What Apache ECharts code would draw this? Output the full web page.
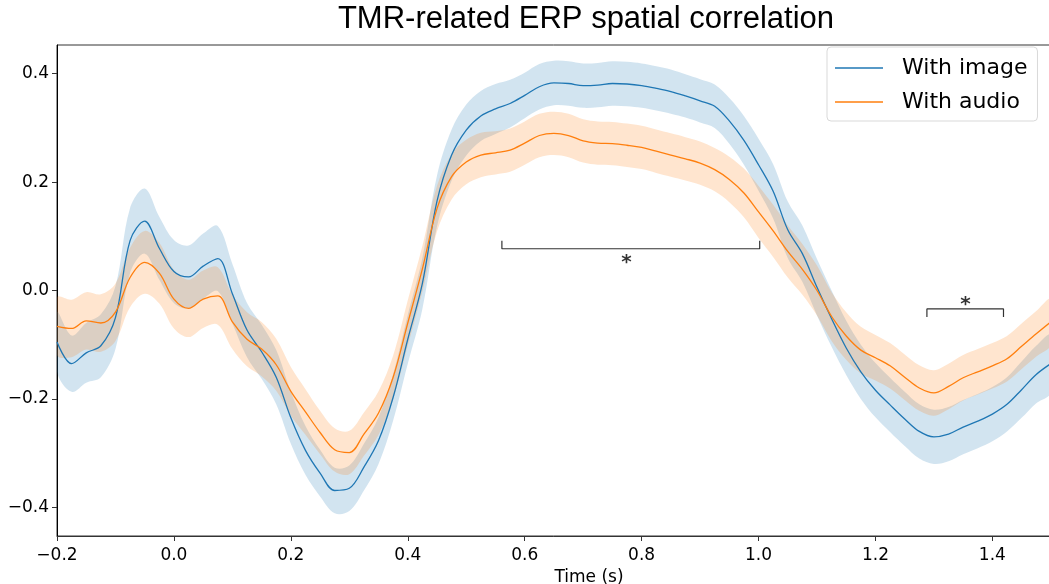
<!DOCTYPE html>
<html>
<head>
<meta charset="utf-8">
<title>TMR-related ERP spatial correlation</title>
<script src="https://cdn.jsdelivr.net/npm/echarts@6/dist/echarts.min.js"></script>
<style>
    html, body { margin: 0; padding: 0; background: #fff; }
    #erp_corr_con { width: 1049px; height: 584px; }
</style>
</head>
<body>
<div id="erp_corr_con"></div>
<script>
    // time axis (s)
    const times = [
        -0.2, -0.175, -0.15, -0.125, -0.1, -0.075, -0.05, -0.025, 0, 0.025,
        0.05, 0.075, 0.1, 0.125, 0.15, 0.175, 0.2, 0.225, 0.25, 0.275,
        0.3, 0.325, 0.35, 0.375, 0.4, 0.425, 0.45, 0.475, 0.5, 0.525,
        0.55, 0.575, 0.6, 0.625, 0.65, 0.675, 0.7, 0.725, 0.75, 0.775,
        0.8, 0.825, 0.85, 0.875, 0.9, 0.925, 0.95, 0.975, 1, 1.025,
        1.05, 1.075, 1.1, 1.125, 1.15, 1.175, 1.2, 1.225, 1.25, 1.275,
        1.3, 1.325, 1.35, 1.375, 1.4, 1.425, 1.45, 1.475, 1.5
    ];

    // With image: mean and half width of the shaded band
    const imageMean = [
        -0.095, -0.135, -0.115, -0.102, -0.05, 0.092, 0.128, 0.078, 0.035, 0.025,
        0.045, 0.059, -0.006, -0.073, -0.113, -0.16, -0.235, -0.295, -0.337, -0.369,
        -0.365, -0.326, -0.277, -0.197, -0.09, 0.013, 0.165, 0.25, 0.296, 0.322,
        0.335, 0.345, 0.36, 0.376, 0.383, 0.382, 0.378, 0.379, 0.382, 0.381,
        0.378, 0.373, 0.367, 0.359, 0.35, 0.34, 0.313, 0.277, 0.232, 0.183,
        0.112, 0.068, 0.006, -0.052, -0.106, -0.15, -0.184, -0.211, -0.237, -0.26,
        -0.27, -0.265, -0.252, -0.241, -0.228, -0.21, -0.183, -0.155, -0.135
    ];
    const imageHw = [
        0.055, 0.052, 0.055, 0.058, 0.058, 0.06, 0.06, 0.058, 0.058, 0.058,
        0.06, 0.06, 0.055, 0.05, 0.05, 0.05, 0.048, 0.045, 0.043, 0.042,
        0.042, 0.043, 0.043, 0.043, 0.045, 0.047, 0.047, 0.047, 0.047, 0.046,
        0.046, 0.044, 0.042, 0.042, 0.041, 0.041, 0.041, 0.041, 0.041, 0.041,
        0.041, 0.041, 0.041, 0.04, 0.04, 0.04, 0.042, 0.045, 0.048, 0.05,
        0.052, 0.052, 0.052, 0.052, 0.05, 0.05, 0.05, 0.05, 0.05, 0.05,
        0.05, 0.05, 0.05, 0.05, 0.05, 0.05, 0.052, 0.053, 0.053
    ];

    // With audio: mean and half width of the shaded band
    const audioMean = [
        -0.066, -0.07, -0.056, -0.06, -0.04, 0.024, 0.052, 0.032, -0.016, -0.033,
        -0.016, -0.01, -0.058, -0.09, -0.108, -0.137, -0.186, -0.224, -0.262, -0.294,
        -0.299, -0.265, -0.226, -0.16, -0.06, 0.04, 0.151, 0.21, 0.237, 0.25,
        0.254, 0.259, 0.272, 0.286, 0.29, 0.286, 0.276, 0.272, 0.271, 0.268,
        0.264, 0.257, 0.25, 0.243, 0.235, 0.223, 0.205, 0.18, 0.145, 0.11,
        0.072, 0.039, 0.0, -0.048, -0.084, -0.11, -0.124, -0.139, -0.16, -0.18,
        -0.189, -0.177, -0.161, -0.15, -0.139, -0.126, -0.103, -0.08, -0.058
    ];
    const audioHw = [
        0.053, 0.053, 0.053, 0.053, 0.053, 0.055, 0.058, 0.056, 0.054, 0.053,
        0.053, 0.053, 0.05, 0.05, 0.05, 0.048, 0.045, 0.042, 0.04, 0.04,
        0.04, 0.04, 0.04, 0.04, 0.042, 0.042, 0.042, 0.042, 0.041, 0.041,
        0.04, 0.04, 0.04, 0.04, 0.04, 0.04, 0.04, 0.04, 0.04, 0.04,
        0.04, 0.04, 0.04, 0.04, 0.04, 0.04, 0.042, 0.045, 0.048, 0.048,
        0.048, 0.047, 0.046, 0.045, 0.044, 0.043, 0.042, 0.042, 0.042, 0.042,
        0.042, 0.042, 0.042, 0.042, 0.042, 0.042, 0.042, 0.042, 0.042
    ];

    // significance brackets and stars
    const sig1Times = [0.561, 0.561, 1.002, 1.002];
    const sig1Vals = [0.092, 0.077, 0.077, 0.092];
    const sig2Times = [1.288, 1.288, 1.419, 1.419];
    const sig2Vals = [-0.049, -0.034, -0.034, -0.049];
    const starTimes = [0.774, 1.354];
    const starVals = [0.061, -0.018];

    // tick labels
    const xTicks = [-0.2, 0, 0.2, 0.4, 0.6, 0.8, 1.0, 1.2, 1.4];
    const yTicks = [-0.4, -0.2, 0, 0.2, 0.4];

    const blue = '#1f77b4';
    const orange = '#ff7f0e';

    const pairs = (xs, ys) => xs.map((x, i) => [x, ys[i]]);
    const fmt = (v) => (v < 0 ? '\u2212' : '') + Math.abs(v).toFixed(1);

    // shaded band (mean +/- half width) drawn as one polygon through the axes
    const bandSeries = (key, mean, hw, fill) => ({
        name: key,
        type: 'custom',
        silent: true,
        clip: true,
        renderItem: function (params, api) {
            if (params.dataIndex !== 0) {
                return null;
            }
            const upper = times.map((t, i) => api.coord([t, mean[i] + hw[i]]));
            const lower = times.map((t, i) => api.coord([t, mean[i] - hw[i]])).reverse();
            return {
                type: 'polygon',
                shape: { points: upper.concat(lower), smooth: 0.35 },
                style: { fill: fill, stroke: null }
            };
        },
        data: pairs(times, mean)
    });

    const option = {
        animation: false,
        backgroundColor: '#fff',
        title: {
            text: 'TMR-related ERP spatial correlation',
            left: 586,
            top: 4,
            padding: 0,
            textAlign: 'center',
            textStyle: {
                fontFamily: 'Liberation Sans',
                fontSize: 31,
                fontWeight: 'normal',
                color: '#000'
            }
        },
        legend: {
            data: ['With image', 'With audio'],
            orient: 'vertical',
            left: 827,
            top: 47,
            padding: [9, 10, 7, 8],
            itemGap: 10,
            itemWidth: 48,
            itemHeight: 1.6,
            icon: 'rect',
            backgroundColor: 'rgba(255,255,255,0.85)',
            borderColor: '#d9d9d9',
            borderWidth: 1,
            borderRadius: 4,
            textStyle: {
                fontFamily: 'DejaVu Sans',
                fontSize: 22,
                lineHeight: 24,
                color: '#000',
                padding: [0, 0, 0, 14]
            }
        },
        grid: {
            left: 57,
            top: 45,
            width: 1064,
            height: 491,
            outerBoundsMode: 'none',
            containLabel: false,
            show: true,
            borderColor: '#333',
            borderWidth: 1,
            backgroundColor: 'transparent'
        },
        xAxis: {
            type: 'value',
            min: -0.2,
            max: 1.62,
            name: 'Time (s)',
            nameLocation: 'middle',
            nameGap: 31,
            nameTextStyle: { fontFamily: 'DejaVu Sans', fontSize: 17, color: '#000' },
            axisLine: { show: true, onZero: false, lineStyle: { color: '#333', width: 1 } },
            axisTick: { show: true, length: 5, customValues: xTicks, lineStyle: { color: '#333' } },
            axisLabel: {
                customValues: xTicks,
                formatter: fmt,
                margin: 11,
                fontFamily: 'DejaVu Sans',
                fontSize: 17,
                color: '#000'
            },
            splitLine: { show: false }
        },
        yAxis: {
            type: 'value',
            min: -0.453,
            max: 0.453,
            axisLine: { show: true, onZero: false, lineStyle: { color: '#000', width: 1 } },
            axisTick: { show: true, length: 5, customValues: yTicks, lineStyle: { color: '#333' } },
            axisLabel: {
                customValues: yTicks,
                formatter: fmt,
                margin: 8,
                fontFamily: 'DejaVu Sans',
                fontSize: 17,
                color: '#000'
            },
            splitLine: { show: false }
        },
        series: [
            bandSeries('imgBand', imageMean, imageHw, 'rgba(31,119,180,0.2)'),
            bandSeries('audBand', audioMean, audioHw, 'rgba(255,127,14,0.2)'),
            {
                name: 'With image',
                type: 'line',
                smooth: 0.35,
                showSymbol: false,
                color: blue,
                lineStyle: { color: blue, width: 1.3 },
                data: pairs(times, imageMean)
            }, {
                name: 'With audio',
                type: 'line',
                smooth: 0.35,
                showSymbol: false,
                color: orange,
                lineStyle: { color: orange, width: 1.3 },
                data: pairs(times, audioMean)
            }, {
                name: 'sig1',
                type: 'line',
                showSymbol: false,
                silent: true,
                lineStyle: { color: '#333', width: 1.2 },
                data: pairs(sig1Times, sig1Vals)
            }, {
                name: 'sig2',
                type: 'line',
                showSymbol: false,
                silent: true,
                lineStyle: { color: '#333', width: 1.2 },
                data: pairs(sig2Times, sig2Vals)
            }, {
                name: 'stars',
                type: 'scatter',
                symbolSize: 2,
                itemStyle: { color: 'rgba(0,0,0,0)' },
                silent: true,
                label: {
                    show: true,
                    position: 'inside',
                    formatter: '*',
                    fontFamily: 'DejaVu Sans',
                    fontSize: 20,
                    fontWeight: 'bold',
                    color: '#000',
                    offset: [0, 5]
                },
                data: pairs(starTimes, starVals)
            }
        ]
    };

    const erpChart = echarts.init(document.getElementById('erp_corr_con'));
    erpChart.setOption(option);

    window.addEventListener('resize', function () {
        erpChart.resize();
    });
</script>
</body>
</html>
